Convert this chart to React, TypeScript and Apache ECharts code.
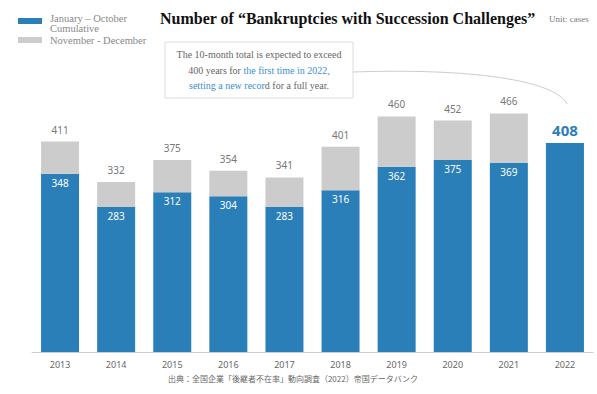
import React, { useEffect, useRef } from "react";
import * as echarts from "echarts";

const years = ["2013", "2014", "2015", "2016", "2017", "2018", "2019", "2020", "2021", "2022"];
const janOct = [348, 283, 312, 304, 283, 316, 362, 375, 369, 408];
const novDec = [63, 49, 63, 50, 58, 85, 98, 77, 97, 0];

const BLUE = "#2b7fb8";
const GRAY = "#cccccc";
const SERIF = "'Liberation Serif', 'DejaVu Serif', serif";
const SANS = "'Noto Sans', 'Open Sans', sans-serif";

export default function App() {
  const ref = useRef<HTMLDivElement>(null);
  useEffect(() => {
    if (!ref.current) return;
    const chart = echarts.init(ref.current, undefined, { renderer: "svg" });
    const totals = janOct.map((v, i) => v + novDec[i]);
    const last = years.length - 1;
    chart.setOption({
      animation: false,
      grid: { left: 32, right: 4, top: 96, bottom: 42 },
      xAxis: {
        type: "category",
        data: years,
        axisLine: { lineStyle: { color: "#cccccc" } },
        axisTick: { show: false },
        axisLabel: { color: "#666", fontSize: 9, fontFamily: SANS, margin: 8 },
      },
      yAxis: { type: "value", min: 0, max: 500, show: false, splitLine: { show: false } },
      series: [
        {
          type: "bar",
          stack: "a",
          barWidth: 38,
          data: janOct.map((v, i) => ({
            value: v,
            label:
              i === last
                ? { show: true, position: "top", color: BLUE, fontSize: 15, fontWeight: "bold", fontFamily: SANS, distance: 6, formatter: String(v) }
                : { show: true, position: "insideTop", color: "#fff", fontSize: 10, fontFamily: SANS, distance: 4 },
          })),
          itemStyle: { color: BLUE },
        },
        {
          type: "bar",
          stack: "a",
          barWidth: 38,
          data: novDec.map((v, i) => ({
            value: v,
            label:
              i === last
                ? { show: false }
                : { show: true, position: "top", color: "#777", fontSize: 10, fontFamily: SANS, distance: 7, formatter: String(totals[i]) },
          })),
          itemStyle: { color: GRAY },
        },
      ],
      graphic: [
        { type: "rect", shape: { x: 18, y: 18, width: 24, height: 6 }, style: { fill: BLUE } },
        { type: "rect", shape: { x: 18, y: 37, width: 24, height: 6 }, style: { fill: GRAY } },
        {
          type: "text",
          x: 50,
          y: 13,
          style: { text: "January – October\nCumulative", fill: "#888", fontSize: 10.5, fontFamily: SERIF, lineHeight: 10 },
        },
        {
          type: "text",
          x: 50,
          y: 35,
          style: { text: "November - December", fill: "#888", fontSize: 10.5, fontFamily: SERIF },
        },
        {
          type: "text",
          x: 160,
          y: 10,
          style: {
            text: "Number of “Bankruptcies with Succession Challenges”",
            fill: "#111",
            fontSize: 16,
            fontWeight: "bold",
            fontFamily: SERIF,
          },
        },
        {
          type: "text",
          x: 549,
          y: 14,
          style: { text: "Unit: cases", fill: "#777", fontSize: 9, fontFamily: SERIF },
        },
        {
          type: "rect",
          shape: { x: 165, y: 42, width: 188, height: 56 },
          style: { fill: "#fff", stroke: "#dddddd", lineWidth: 1 },
        },
        {
          type: "text",
          x: 259,
          y: 47,
          style: {
            text:
              "The 10-month total is expected to exceed\n400 years for {b|the first time in 2022,}\n{b|setting a new recor}d for a full year.",
            align: "center",
            fill: "#666",
            fontSize: 10,
            fontFamily: SERIF,
            lineHeight: 15.5,
            rich: { b: { fill: "#3a8fd0", fontSize: 10, fontFamily: SERIF, lineHeight: 15.5 } },
          },
        },
        {
          type: "bezierCurve",
          shape: { x1: 353, y1: 72, x2: 567, y2: 104, cpx1: 470, cpy1: 68, cpx2: 555, cpy2: 80 },
          style: { stroke: "#cccccc", lineWidth: 1, fill: "none" },
        },
        {
          type: "text",
          x: 293,
          y: 374,
          style: {
            text: "出典：全国企業「後継者不在率」動向調査（2022）帝国データバンク",
            align: "center",
            fill: "#666",
            fontSize: 8,
            fontFamily: "'Noto Sans CJK JP', sans-serif",
          },
        },
      ],
    });
    return () => chart.dispose();
  }, []);
  return <div ref={ref} style={{ width: 597, height: 394, position: "absolute", left: 0, top: 0 }} />;
}
